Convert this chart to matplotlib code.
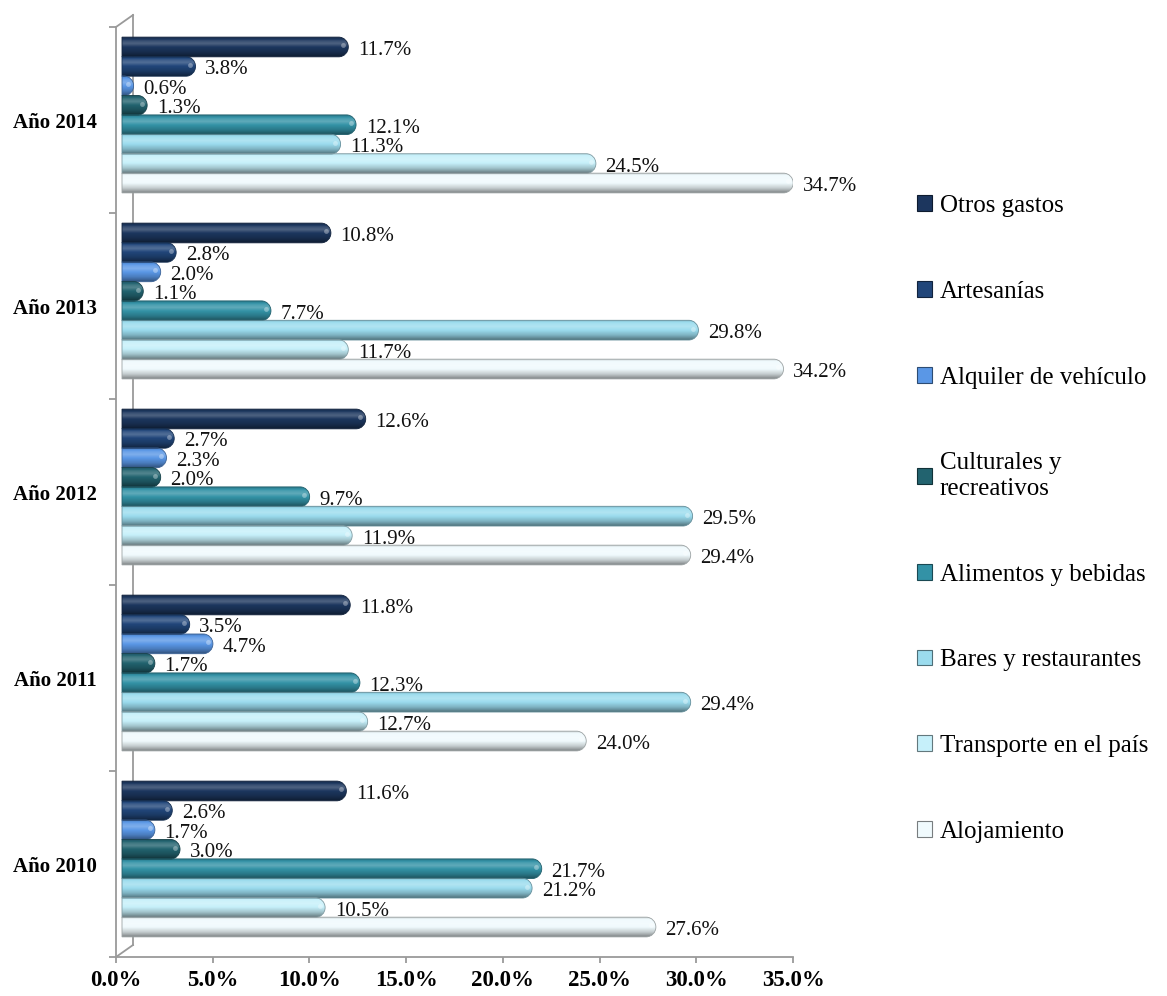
import numpy as np
import matplotlib
matplotlib.use('Agg')
import matplotlib.pyplot as plt
from matplotlib.path import Path
from matplotlib.patches import PathPatch, Patch
from matplotlib.transforms import offset_copy
from matplotlib.lines import Line2D
import matplotlib.colors as mcolors

plt.rcParams['font.family'] = ['Liberation Serif', 'DejaVu Serif']

# ---------------- data ----------------
years = ['Año 2010', 'Año 2011', 'Año 2012', 'Año 2013', 'Año 2014']
series_names = ['Otros gastos', 'Artesanías', 'Alquiler de vehículo',
                'Culturales y\nrecreativos', 'Alimentos y bebidas',
                'Bares y restaurantes', 'Transporte en el país', 'Alojamiento']
otros = [11.6, 11.8, 12.6, 10.8, 11.7]
artesanias = [2.6, 3.5, 2.7, 2.8, 3.8]
alquiler = [1.7, 4.7, 2.3, 2.0, 0.6]
culturales = [3.0, 1.7, 2.0, 1.1, 1.3]
alimentos = [21.7, 12.3, 9.7, 7.7, 12.1]
bares = [21.2, 29.4, 29.5, 29.8, 11.3]
transporte = [10.5, 12.7, 11.9, 11.7, 24.5]
alojamiento = [27.6, 24.0, 29.4, 34.2, 34.7]
series_values = [otros, artesanias, alquiler, culturales, alimentos,
                 bares, transporte, alojamiento]
colors = ['#1c365e', '#21467a', '#5a97e6', '#22636f', '#3392a6',
          '#9bdcee', '#c6f0fa', '#f0fafd']
xticks = [0, 5, 10, 15, 20, 25, 30, 35]

# ---------------- figure ----------------
W, H = 1167, 996
fig = plt.figure(figsize=(W / 100, H / 100), dpi=100)
ax = fig.add_axes([116 / W, (H - 957) / H, (793 - 116) / W, (957 - 27) / H])
ax.set_xlim(0, 35)
ax.set_ylim(-0.5, 4.5)
ax.set_autoscale_on(False)

grey = '#9a9a9a'
# bar transform (3D depth offset)
tb = offset_copy(ax.transData, fig=fig, x=6, y=5, units='dots')
tw = offset_copy(ax.transAxes, fig=fig, x=17, y=12, units='dots')

# back wall line
ax.add_line(Line2D([0, 0], [0, 1], transform=tw, color=grey,
                   lw=1.3, clip_on=False, zorder=0.5))
for yy in (0, 1):
    p0 = ax.transAxes.transform((0, yy))
    p1 = tw.transform((0, yy))
    ax.add_line(Line2D([p0[0], p1[0]], [p0[1], p1[1]], transform=None,
                       color=grey, lw=1.3, clip_on=False, zorder=0.5))

pitch = 0.1045
bh = 0.106
ys = np.arange(len(years))

# gradient profile (t=0 bottom, 1 top)
tk = [0.0, 0.08, 0.25, 0.5, 0.68, 0.82, 0.93, 1.0]
kk = [-0.50, -0.38, -0.18, 0.0, 0.22, 0.12, -0.05, -0.2]
N = 80
tt = np.linspace(0, 1, N)
prof = np.interp(tt, tk, kk)


def shade(c, k):
    c = np.array(c)
    return c + (1 - c) * k if k >= 0 else c * (1 + k)


kappa = 0.5523
rx = 0.5
for i, (vals, col) in enumerate(zip(series_values, colors)):
    yc = ys + (3.5 - i) * pitch
    bars = ax.barh(yc, vals, height=bh, color=col, transform=tb, zorder=1)
    base = mcolors.to_rgb(col)
    img = np.array([shade(base, k) for k in prof])[:, None, :]
    for rect, v in zip(bars, vals):
        rect.set_alpha(0)
        x0, y0 = rect.get_x(), rect.get_y()
        w, h = rect.get_width(), rect.get_height()
        x1, y1 = x0 + w, y0 + h
        ym = y0 + h / 2
        ry = h / 2
        xs = x1 - rx
        verts = [(x0, y0), (xs, y0),
                 (xs + kappa * rx, y0), (x1, ym - kappa * ry), (x1, ym),
                 (x1, ym + kappa * ry), (xs + kappa * rx, y1), (xs, y1),
                 (x0, y1), (x0, y0)]
        codes = [Path.MOVETO, Path.LINETO,
                 Path.CURVE4, Path.CURVE4, Path.CURVE4,
                 Path.CURVE4, Path.CURVE4, Path.CURVE4,
                 Path.LINETO, Path.CLOSEPOLY]
        pp = PathPatch(Path(verts, codes), facecolor='none',
                       edgecolor=shade(base, -0.35), lw=0.6, transform=tb,
                       zorder=3)
        ax.add_patch(pp)
        im = ax.imshow(img, extent=[x0, x1, y0, y1], aspect='auto',
                       origin='lower', transform=tb, zorder=2,
                       interpolation='bilinear')
        im.set_clip_path(pp)
        ax.scatter([x1 - rx * 0.55], [ym + h * 0.08], s=12, color='white',
                   alpha=0.35, transform=tb, zorder=4, linewidths=0)
        ax.annotate(f'{v:.1f}%', xy=(v, ym), xycoords=tb,
                    xytext=(7, -2.5), textcoords='offset points',
                    ha='left', va='center', fontsize=15, color='#111111',
                    zorder=5)

ax.set_xlim(0, 35)
ax.set_ylim(-0.5, 4.5)

# axes styling
for s in ('top', 'right'):
    ax.spines[s].set_visible(False)
for s in ('left', 'bottom'):
    ax.spines[s].set_color(grey)
    ax.spines[s].set_linewidth(1.3)
ax.set_xticks(xticks)
ax.set_xticklabels([f'{x:.1f}%' for x in xticks], fontsize=16.5,
                   fontweight='bold')
ax.tick_params(axis='x', length=4, width=1.3, color=grey, pad=5)
ax.set_yticks(np.arange(-0.5, 5, 1))
ax.set_yticklabels([])
ax.tick_params(axis='y', which='major', length=5, width=1.3, color=grey)
ax.set_yticks(ys, minor=True)
ax.set_yticklabels(years, minor=True, fontsize=15, fontweight='bold')
ax.tick_params(axis='y', which='minor', length=0, pad=14)
ax.patch.set_visible(False)

# legend
handles = [Patch(facecolor=c, edgecolor=shade(mcolors.to_rgb(c), -0.5),
                 lw=0.8) for c in colors]
fig.legend(handles, series_names, loc='center left',
           bbox_to_anchor=(917 / W, (H - 519) / H), frameon=False,
           fontsize=18, labelspacing=2.55, handlelength=0.6,
           handleheight=0.6, handletextpad=0.3, borderpad=0,
           borderaxespad=0)

fig.savefig('out.png', dpi=100)
